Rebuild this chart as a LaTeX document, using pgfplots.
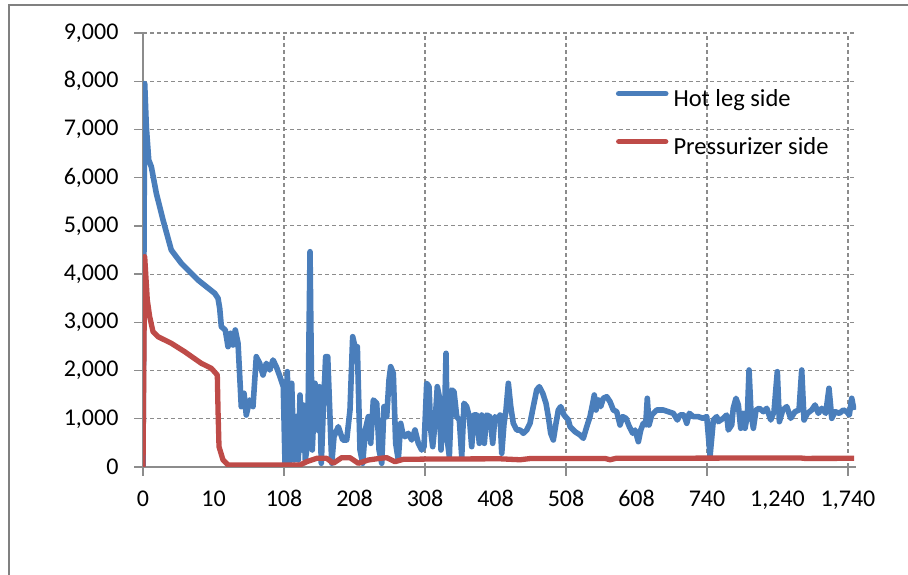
\documentclass[border=0pt]{standalone}
\usepackage{fontspec}
\setmainfont{Carlito}
\usepackage{pgfplots}
\pgfplotsset{compat=1.18}
\definecolor{hotblue}{HTML}{4A7EBB}
\definecolor{przred}{HTML}{BE4B48}
\definecolor{gridgray}{HTML}{8C8C8C}
\begin{document}
\begin{tikzpicture}
\useasboundingbox (0,0) rectangle (908pt,575pt);
\draw[line width=1.6pt, color=gray] (9pt,-30pt) -- (9pt,570pt) -- (940pt,570pt);
\begin{axis}[
  at={(143pt,108pt)}, anchor=south west,
  scale only axis, width=713pt, height=434pt,
  xmin=0, xmax=10.113, ymin=0, ymax=9000,
  axis x line*=bottom, axis y line*=left,
  axis line style={draw=gridgray, line width=1.3pt, -},
  xtick={0,2,4,6,8,10},
  xticklabels={0,108,308,508,740,{1,740}},
  extra x ticks={1,3,5,7,9},
  extra x tick labels={10,208,408,608,{1,240}},
  extra x tick style={grid=none, major tick style={draw=none}},
  ytick={0,1000,2000,3000,4000,5000,6000,7000,8000,9000},
  /pgf/number format/assume math mode=true,
  /pgf/number format/1000 sep={,},
  tick label style={font=\fontsize{24}{28}\selectfont, text=black},
  xticklabel style={yshift=-11pt},
  yticklabel style={xshift=-12pt},
  tick align=outside, major tick length=9pt,
  major tick style={draw=gridgray, line width=1.3pt},
  xmajorgrids, ymajorgrids,
  major grid style={draw=gridgray, line width=1.1pt, dash pattern=on 4pt off 3pt},
  legend style={draw=none, fill=none, at={(0.663,0.871)}, anchor=north west,
    font=\fontsize{24.5}{29}\selectfont, inner sep=0pt, row sep=25pt,
    nodes={text height=17pt, text depth=6pt, inner sep=0pt}},
  legend cell align=left,
  /tikz/every odd column/.append style={column sep=5pt},
  legend image code/.code={\draw[#1, line cap=round] (2.5pt,7pt) -- (49.5pt,7pt);},
  line join=round,
]
\addplot[hotblue, line width=5.6pt] coordinates {
(0,0) (0.024,7950) (0.047,7058) (0.081,6367) (0.118,6228) (0.189,5676) (0.284,5123)
(0.401,4500) (0.543,4225) (0.780,3878) (1.017,3602) (1.064,3499) (1.088,3291) (1.111,2910)
(1.167,2841) (1.206,2495) (1.244,2773) (1.277,2530) (1.309,2841) (1.348,2566) (1.394,1252)
(1.433,1529) (1.465,1078) (1.513,1390) (1.560,1252) (1.607,2288) (1.655,2150) (1.702,1908)
(1.749,2150) (1.797,2012) (1.844,2219) (1.891,2080) (1.943,1873) (1.990,1666) (2.014,83)
(2.047,1977) (2.075,83) (2.109,1736) (2.142,145) (2.170,1044) (2.203,145) (2.227,1493)
(2.255,353) (2.274,1286) (2.302,145) (2.336,491) (2.369,4465) (2.401,353) (2.440,1736)
(2.472,767) (2.501,1666) (2.529,77) (2.557,1182) (2.591,2288) (2.620,2288) (2.652,1044)
(2.677,77) (2.709,629) (2.770,836) (2.833,560) (2.889,560) (2.936,1182) (2.974,2702)
(3.007,2495) (3.040,2495) (3.078,353) (3.116,77) (3.153,767) (3.196,1044) (3.230,491)
(3.267,1390) (3.315,1321) (3.348,353) (3.386,77) (3.418,1252) (3.457,1044) (3.489,1804)
(3.513,2080) (3.550,1943) (3.584,491) (3.621,145) (3.655,906) (3.684,699) (3.716,629)
(3.763,699) (3.811,560) (3.858,767) (3.905,491) (3.953,353) (3.986,421) (4.024,1736)
(4.057,1666) (4.081,767) (4.109,421) (4.142,906) (4.174,1666) (4.203,1458) (4.227,353)
(4.251,1321) (4.270,560) (4.298,2358) (4.316,560) (4.345,214) (4.379,1597) (4.411,1562)
(4.450,1044) (4.487,975) (4.521,214) (4.553,1321) (4.591,1252) (4.628,1044) (4.662,421)
(4.695,1078) (4.733,1078) (4.770,491) (4.804,1078) (4.841,491) (4.875,1078) (4.922,1044)
(4.960,491) (4.993,1044) (5.026,975) (5.064,1078) (5.088,284) (5.121,906) (5.149,1182)
(5.182,1736) (5.216,1252) (5.252,906) (5.301,767) (5.348,767) (5.394,699) (5.443,767)
(5.489,906) (5.536,1252) (5.584,1597) (5.621,1666) (5.670,1529) (5.716,1321) (5.749,1044)
(5.783,699) (5.820,560) (5.858,906) (5.891,1182) (5.925,1252) (5.972,1078) (6.033,975)
(6.057,836) (6.128,732) (6.199,664) (6.245,595) (6.294,836) (6.340,1044) (6.379,1321)
(6.401,1493) (6.426,1182) (6.458,1390) (6.492,1252) (6.529,1425) (6.577,1458) (6.624,1355)
(6.671,1182) (6.719,1147) (6.766,871) (6.804,1044) (6.851,1010) (6.898,836) (6.946,699)
(6.979,767) (7.026,525) (7.060,767) (7.096,906) (7.130,871) (7.153,1425) (7.177,871)
(7.216,1078) (7.287,1182) (7.380,1182) (7.451,1147) (7.522,1113) (7.579,975) (7.617,1078)
(7.674,1078) (7.712,906) (7.749,1113) (7.806,1044) (7.877,1044) (7.939,1010) (7.996,1044)
(8.043,230) (8.090,975) (8.138,1044) (8.160,940) (8.231,1010) (8.279,1078) (8.302,767)
(8.350,871) (8.372,1217) (8.411,1425) (8.444,1286) (8.478,803) (8.506,1113) (8.539,803)
(8.572,1078) (8.596,2012) (8.624,1113) (8.657,803) (8.695,1182) (8.742,1217) (8.799,1147)
(8.847,1217) (8.904,975) (8.950,1147) (8.997,1977) (9.026,940) (9.074,1182) (9.131,1252)
(9.187,1010) (9.248,1147) (9.305,1182) (9.343,2012) (9.376,975) (9.423,1113) (9.485,1182)
(9.532,1286) (9.579,1113) (9.627,1217) (9.684,1113) (9.730,1632) (9.769,1010) (9.816,1147)
(9.877,1113) (9.933,1182) (9.982,1147) (10.018,1078) (10.052,1425) (10.085,1182)
};
\addlegendentry{Hot leg side}
\addplot[przred, line width=5.3pt] coordinates {
(0,0) (0.024,4362) (0.061,3464) (0.095,3117) (0.142,2806) (0.213,2702) (0.401,2566)
(0.591,2391) (0.827,2150) (0.969,2047) (1.054,1908) (1.064,1182) (1.078,421) (1.135,145)
(1.206,41) (2.227,41) (2.322,110) (2.464,180) (2.606,180) (2.699,77) (2.818,193)
(2.936,193) (3.054,77) (3.196,145) (3.362,180) (3.457,193) (3.574,110) (3.692,159)
(4.071,165) (5.064,170) (5.348,150) (5.489,175) (6.553,178) (6.624,150) (6.709,180)
(9.319,188) (9.390,178) (10.085,180)
};
\addlegendentry{Pressurizer side}
\end{axis}
\end{tikzpicture}
\end{document}
